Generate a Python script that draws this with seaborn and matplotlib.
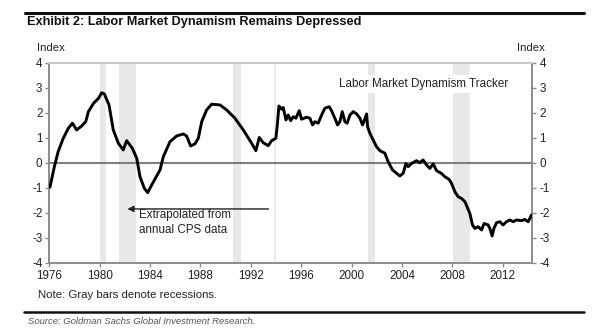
import matplotlib
matplotlib.use("Agg")
import matplotlib.pyplot as plt
from matplotlib.lines import Line2D
import seaborn as sns
import pandas as pd

# ---------------- data ----------------
years = [1976.05, 1976.4, 1976.7, 1977.1, 1977.5, 1977.83, 1978.17, 1978.57, 1978.89, 1979.1,
         1979.5, 1979.9, 1980.16, 1980.37, 1980.74, 1981.08, 1981.48, 1981.87, 1982.14, 1982.59,
         1982.94, 1983.2, 1983.54, 1983.81, 1984.13, 1984.79, 1985.05, 1985.58, 1986.11, 1986.64,
         1986.9, 1987.22, 1987.56, 1987.83, 1988.1, 1988.49, 1988.89, 1989.55, 1990.08, 1990.74,
         1991.4, 1992.06, 1992.4, 1992.67, 1992.98, 1993.38, 1993.65, 1993.99, 1994.1, 1994.23,
         1994.44, 1994.57, 1994.79, 1994.97, 1995.16, 1995.37, 1995.58, 1995.84, 1996.03, 1996.43,
         1996.69, 1996.9, 1997.09, 1997.35, 1997.62, 1997.88, 1998.22, 1998.41, 1998.67, 1998.89,
         1999.07, 1999.26, 1999.47, 1999.65, 1999.87, 2000.13, 2000.4, 2000.66, 2000.87, 2001.0,
         2001.19, 2001.27, 2001.45, 2001.71, 2001.98, 2002.25, 2002.64, 2002.9, 2003.25, 2003.57,
         2003.83, 2004.1, 2004.31, 2004.49, 2004.76, 2005.16, 2005.42, 2005.68, 2005.95, 2006.21,
         2006.48, 2006.75, 2007.14, 2007.4, 2007.75, 2007.94, 2008.2, 2008.46, 2008.73, 2009.0,
         2009.17, 2009.39, 2009.6, 2009.79, 2010.05, 2010.32, 2010.52, 2010.84, 2010.98, 2011.16,
         2011.3, 2011.51, 2011.77, 2012.03, 2012.3, 2012.56, 2012.83, 2013.1, 2013.49, 2013.75,
         2014.02, 2014.29]
index_values = [-0.98, -0.16, 0.44, 0.97, 1.37, 1.58, 1.31, 1.47, 1.64, 2.04,
                2.37, 2.57, 2.80, 2.75, 2.31, 1.31, 0.78, 0.51, 0.88, 0.58,
                0.18, -0.56, -1.02, -1.20, -0.89, -0.29, 0.24, 0.84, 1.07, 1.15,
                1.07, 0.67, 0.75, 0.98, 1.64, 2.11, 2.34, 2.31, 2.11, 1.78,
                1.31, 0.78, 0.48, 1.01, 0.80, 0.68, 0.88, 0.98, 1.50, 2.27,
                2.14, 2.21, 1.71, 1.91, 1.68, 1.84, 1.78, 2.08, 1.74, 1.82,
                1.78, 1.51, 1.64, 1.58, 1.91, 2.18, 2.24, 2.08, 1.78, 1.51,
                1.64, 2.04, 1.64, 1.58, 1.91, 2.04, 1.95, 1.78, 1.51, 1.68,
                1.95, 1.44, 1.18, 0.91, 0.64, 0.48, 0.38, 0.04, -0.29, -0.42,
                -0.53, -0.42, -0.03, -0.16, -0.03, 0.08, 0.00, 0.11, -0.09, -0.23,
                -0.05, -0.32, -0.43, -0.56, -0.67, -0.83, -1.16, -1.36, -1.43, -1.56,
                -1.76, -2.03, -2.49, -2.63, -2.56, -2.69, -2.43, -2.49, -2.63, -2.93,
                -2.63, -2.40, -2.36, -2.49, -2.36, -2.29, -2.36, -2.29, -2.32, -2.27,
                -2.36, -2.09]
recession_starts = [1980.03, 1981.56, 1990.6, 2001.32, 2008.06]
recession_ends = [1980.5, 1982.86, 1991.19, 2001.87, 2009.44]
x_ticks = [1976, 1980, 1984, 1988, 1992, 1996, 2000, 2004, 2008, 2012]
y_ticks = [-4, -3, -2, -1, 0, 1, 2, 3, 4]

df = pd.DataFrame({"year": years, "value": index_values})

# ---------------- style ----------------
sns.set_theme(style="white")
plt.rcParams["font.family"] = ["Liberation Sans", "DejaVu Sans"]
plt.rcParams["axes.unicode_minus"] = False

fig = plt.figure(figsize=(6.0, 3.33), dpi=100)
ax = fig.add_axes([0.0822, 0.2111, 0.805, 0.6006])

for s, e in zip(recession_starts, recession_ends):
    ax.axvspan(s, e, color="#e8e8e8", lw=0, zorder=0)
ax.axvline(1993.94, color="#e6e6e6", lw=1.2, zorder=0)
ax.axhline(0, color="#7f7f7f", lw=1.5, zorder=1)

sns.lineplot(data=df, x="year", y="value", ax=ax, color="black", lw=2.1, zorder=3)

ax.set_xlim(1976, 2014.35)
ax.set_ylim(-4, 4)
ax.set_xticks(x_ticks)
ax.set_yticks(y_ticks)
ax.set_xlabel("")
ax.set_ylabel("")
for sp in ax.spines.values():
    sp.set_color("#8c8c8c")
    sp.set_linewidth(1.4)
ax.spines["top"].set_color("#c8c8c8")
ax.tick_params(axis="both", labelsize=8.4, colors="#222222", length=3, width=1,
               direction="out", pad=2)
ax.tick_params(axis="both", color="#8c8c8c")
ax.tick_params(axis="y", left=True, right=True, labelleft=True, labelright=True)
ax.tick_params(axis="x", bottom=True)

# annotations
ax.annotate("", xy=(1982.2, -1.85), xytext=(1993.4, -1.85),
            arrowprops=dict(arrowstyle="-|>", color="#222222", lw=1.0,
                            mutation_scale=9, shrinkA=0, shrinkB=0))
ax.text(1983.15, -2.38, "Extrapolated from\nannual CPS data", fontsize=8.4,
        color="#222222", va="center", ha="left", linespacing=1.35)
ax.text(1999.0, 3.15, "Labor Market Dynamism Tracker", fontsize=8.4, color="#222222",
        va="center", ha="left", zorder=4,
        bbox=dict(facecolor="white", edgecolor="none", pad=2))

W, H = 600, 333
def fx(x):
    return x / W
def fy(y):
    return 1 - y / H

fig.text(fx(51), fy(48), "Index", fontsize=8.2, ha="center", va="center", color="#222222")
fig.text(fx(531), fy(48), "Index", fontsize=8.2, ha="center", va="center", color="#222222")

fig.text(fx(27), fy(22), "Exhibit 2: Labor Market Dynamism Remains Depressed",
         fontsize=9.2, fontweight="bold", ha="left", va="center", color="#111111")
fig.add_artist(Line2D([fx(25), fx(584)], [fy(13), fy(13)], color="#111111", lw=2.2))

fig.text(fx(37.7), fy(294.5), "Note: Gray bars denote recessions.", fontsize=8.2,
         ha="left", va="center", color="#222222")
fig.add_artist(Line2D([fx(24), fx(584)], [fy(312), fy(312)], color="#111111", lw=1.8))
fig.text(fx(28), fy(321), "Source: Goldman Sachs Global Investment Research.", fontsize=6.8,
         style="italic", ha="left", va="center", color="#555555")

fig.savefig("out.png", dpi=100, facecolor="white")
